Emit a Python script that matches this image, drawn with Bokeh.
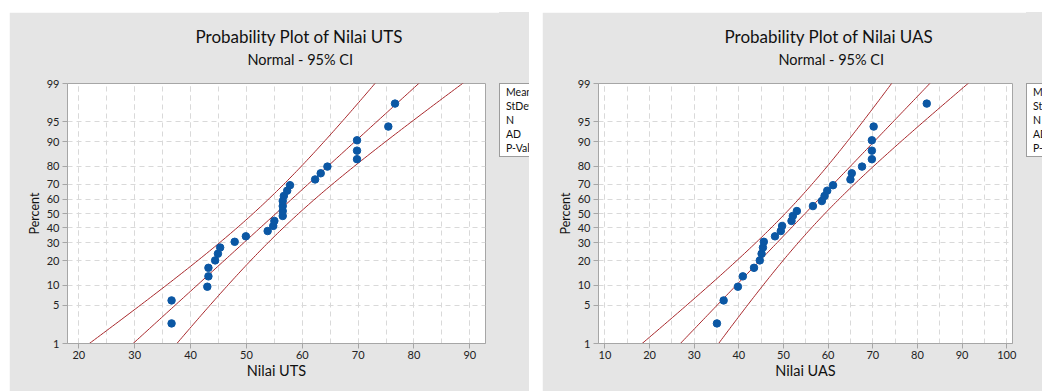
from statistics import NormalDist, mean, stdev
from math import sqrt
from bokeh.plotting import figure
from bokeh.models import Range1d, FixedTicker, CustomJSTickFormatter, Spacer, Title, Div
from bokeh.layouts import row, column
from bokeh.embed import file_html
from bokeh.resources import INLINE

# ---------------- data ----------------
uts_values = [36.6, 36.6, 43.0, 43.2, 43.2, 44.4, 44.9, 45.3, 47.9, 49.9, 53.8, 54.8,
              55.0, 56.5, 56.5, 56.5, 56.5, 56.7, 57.3, 57.8, 62.3, 63.3, 64.5, 69.8,
              69.8, 69.8, 75.4, 76.6]
uas_values = [35.1, 36.6, 39.8, 40.9, 43.4, 44.7, 45.1, 45.4, 45.6, 48.1, 49.4, 49.7,
              51.8, 52.1, 53.0, 56.6, 58.6, 59.2, 59.8, 61.1, 65.0, 65.3, 67.6, 69.8,
              69.8, 69.8, 70.2, 82.1]
plot_percent = [2.46, 5.99, 9.51, 13.03, 16.55, 20.07, 23.59, 27.11, 30.63, 34.15,
                37.68, 41.20, 44.72, 48.24, 51.76, 55.28, 58.80, 62.32, 65.85, 69.37,
                72.89, 76.41, 79.93, 83.45, 86.97, 90.49, 94.01, 97.54]
pct_ticks = [1, 5, 10, 20, 30, 40, 50, 60, 70, 80, 90, 95, 99]
uts_xticks = [20, 30, 40, 50, 60, 70, 80, 90]
uts_xgrid = [20, 25, 30, 35, 40, 45, 50, 55, 60, 65, 70, 75, 80, 85, 90]
uas_xticks = [10, 20, 30, 40, 50, 60, 70, 80, 90, 100]
uas_xgrid = [10, 15, 20, 25, 30, 35, 40, 45, 50, 55, 60, 65, 70, 75, 80, 85, 90, 95, 100]
stat_names = ["Mean", "StDev", "N", "AD", "P-Value"]
titles = ["Probability Plot of Nilai UTS", "Probability Plot of Nilai UAS"]
subtitle = "Normal - 95% CI"
xlabels = ["Nilai UTS", "Nilai UAS"]
ylabel = "Percent"

ND = NormalDist()


def zq(p):
    return ND.inv_cdf(p / 100.0)


FONT = "Lato"
PANEL = "#e5e5e5"
FRAME = "#a6a6a6"
GRID = "#d9d9d9"
DOT = "#0b57a4"
LINE = "#a8282c"
TXT = "#111111"
H = 379
TOP = 71
FRAME_H = 260
GAP = 14
ZLO, ZHI = zq(1), zq(99)


def make_plot(values, title, xlabel, xticks, xgrid, xr, width, mb_left,
              title_off, sub_off):
    p = figure(width=width, height=H, output_backend="svg", toolbar_location=None,
               x_range=Range1d(*xr), y_range=Range1d(ZLO, ZHI),
               min_border_left=mb_left, min_border_right=GAP,
               min_border_top=TOP, min_border_bottom=H - TOP - FRAME_H)
    p.border_fill_color = PANEL
    p.background_fill_color = "white"
    p.outline_line_color = FRAME

    # titles, stacked upward from the frame: spacer, subtitle, title
    p.add_layout(Title(text=" ", text_font_size="10px", standoff=2, text_color=PANEL), "above")
    p.add_layout(Title(text=subtitle, align="left", offset=sub_off, vertical_align="middle",
                       standoff=0, text_font=FONT, text_font_size="14.5px",
                       text_font_style="normal", text_color=TXT), "above")
    p.add_layout(Title(text=title, align="left", offset=title_off, vertical_align="middle",
                       standoff=3, text_font=FONT, text_font_size="17px",
                       text_font_style="normal", text_color=TXT), "above")

    # axes
    ytz = [zq(v) for v in pct_ticks]
    p.yaxis.ticker = FixedTicker(ticks=ytz)
    p.yaxis.formatter = CustomJSTickFormatter(
        args=dict(zs=ytz, labs=[str(v) for v in pct_ticks]),
        code="for (let i = 0; i < zs.length; i++) { if (Math.abs(zs[i] - tick) < 1e-6) return labs[i]; } return '';")
    p.xaxis.ticker = FixedTicker(ticks=xticks, minor_ticks=xgrid)
    for ax in (p.xaxis, p.yaxis):
        ax.axis_line_color = FRAME
        ax.major_tick_line_color = FRAME
        ax.major_tick_in = 0
        ax.major_tick_out = 5
        ax.minor_tick_in = 0
        ax.minor_tick_out = 0
        ax.major_label_text_font = FONT
        ax.major_label_text_font_size = "11px"
        ax.major_label_text_color = "#222222"
        ax.axis_label_text_font = FONT
        ax.axis_label_text_font_style = "normal"
        ax.axis_label_text_color = TXT
    p.xaxis.major_label_standoff = 2
    p.yaxis.major_label_standoff = 3
    p.xaxis.axis_label = xlabel
    p.xaxis.axis_label_text_font_size = "14.5px"
    p.xaxis.axis_label_standoff = 0
    p.yaxis.axis_label = ylabel
    p.yaxis.axis_label_text_font_size = "12.5px"
    p.yaxis.axis_label_standoff = 2

    for g in (p.xgrid, p.ygrid):
        g.grid_line_color = GRID
        g.grid_line_dash = "5 4"
    p.xgrid.minor_grid_line_color = GRID
    p.xgrid.minor_grid_line_dash = "5 4"

    # fitted normal line and its 95% confidence band
    n = len(values)
    m = mean(values)
    s = stdev(values)
    steps = 120
    zz = [ZLO - 0.05 + (ZHI - ZLO + 0.1) * i / steps for i in range(steps + 1)]
    fit = [m + s * z for z in zz]
    half = [1.96 * s * sqrt(1.0 / n + z * z / (2.0 * n)) for z in zz]
    p.line([f - h for f, h in zip(fit, half)], zz, line_color=LINE, line_width=1)
    p.line(fit, zz, line_color=LINE, line_width=1)
    p.line([f + h for f, h in zip(fit, half)], zz, line_color=LINE, line_width=1)

    # data points
    p.scatter(values, [zq(v) for v in plot_percent], size=7.5, color=DOT, line_color=DOT)
    return p


def make_stats_box(width):
    html = ('<div style="width:%dpx; height:%dpx; background:%s; overflow:hidden; '
            'box-sizing:border-box; padding-top:%dpx;">'
            '<div style="width:70px; border:1px solid #9c9c9c; background:#ffffff; '
            'padding:1px 0 1px 6px; font-family:Lato, sans-serif; font-size:10.5px; '
            'line-height:14px; color:%s; white-space:nowrap;">%s</div></div>'
            % (width, H, PANEL, TOP, TXT, "<br>".join(stat_names)))
    return Div(text=html, width=width, height=H,
               styles={"background-color": PANEL, "overflow": "hidden",
                       "margin": "0", "padding": "0"})


left = make_plot(uts_values, titles[0], xlabels[0], uts_xticks, uts_xgrid, (17.97, 92.8),
                 490, 58, 128, 180)
left_box = make_stats_box(30)
right = make_plot(uas_values, titles[1], xlabels[1], uas_xticks, uas_xgrid, (8.57, 101.3),
                  484, 56, 126, 180)
right_box = make_stats_box(16)

layout = column(Spacer(height=12),
                row(Spacer(width=9), left, left_box, Spacer(width=13), right, right_box))

open("out.html", "w").write(file_html(layout, INLINE))
